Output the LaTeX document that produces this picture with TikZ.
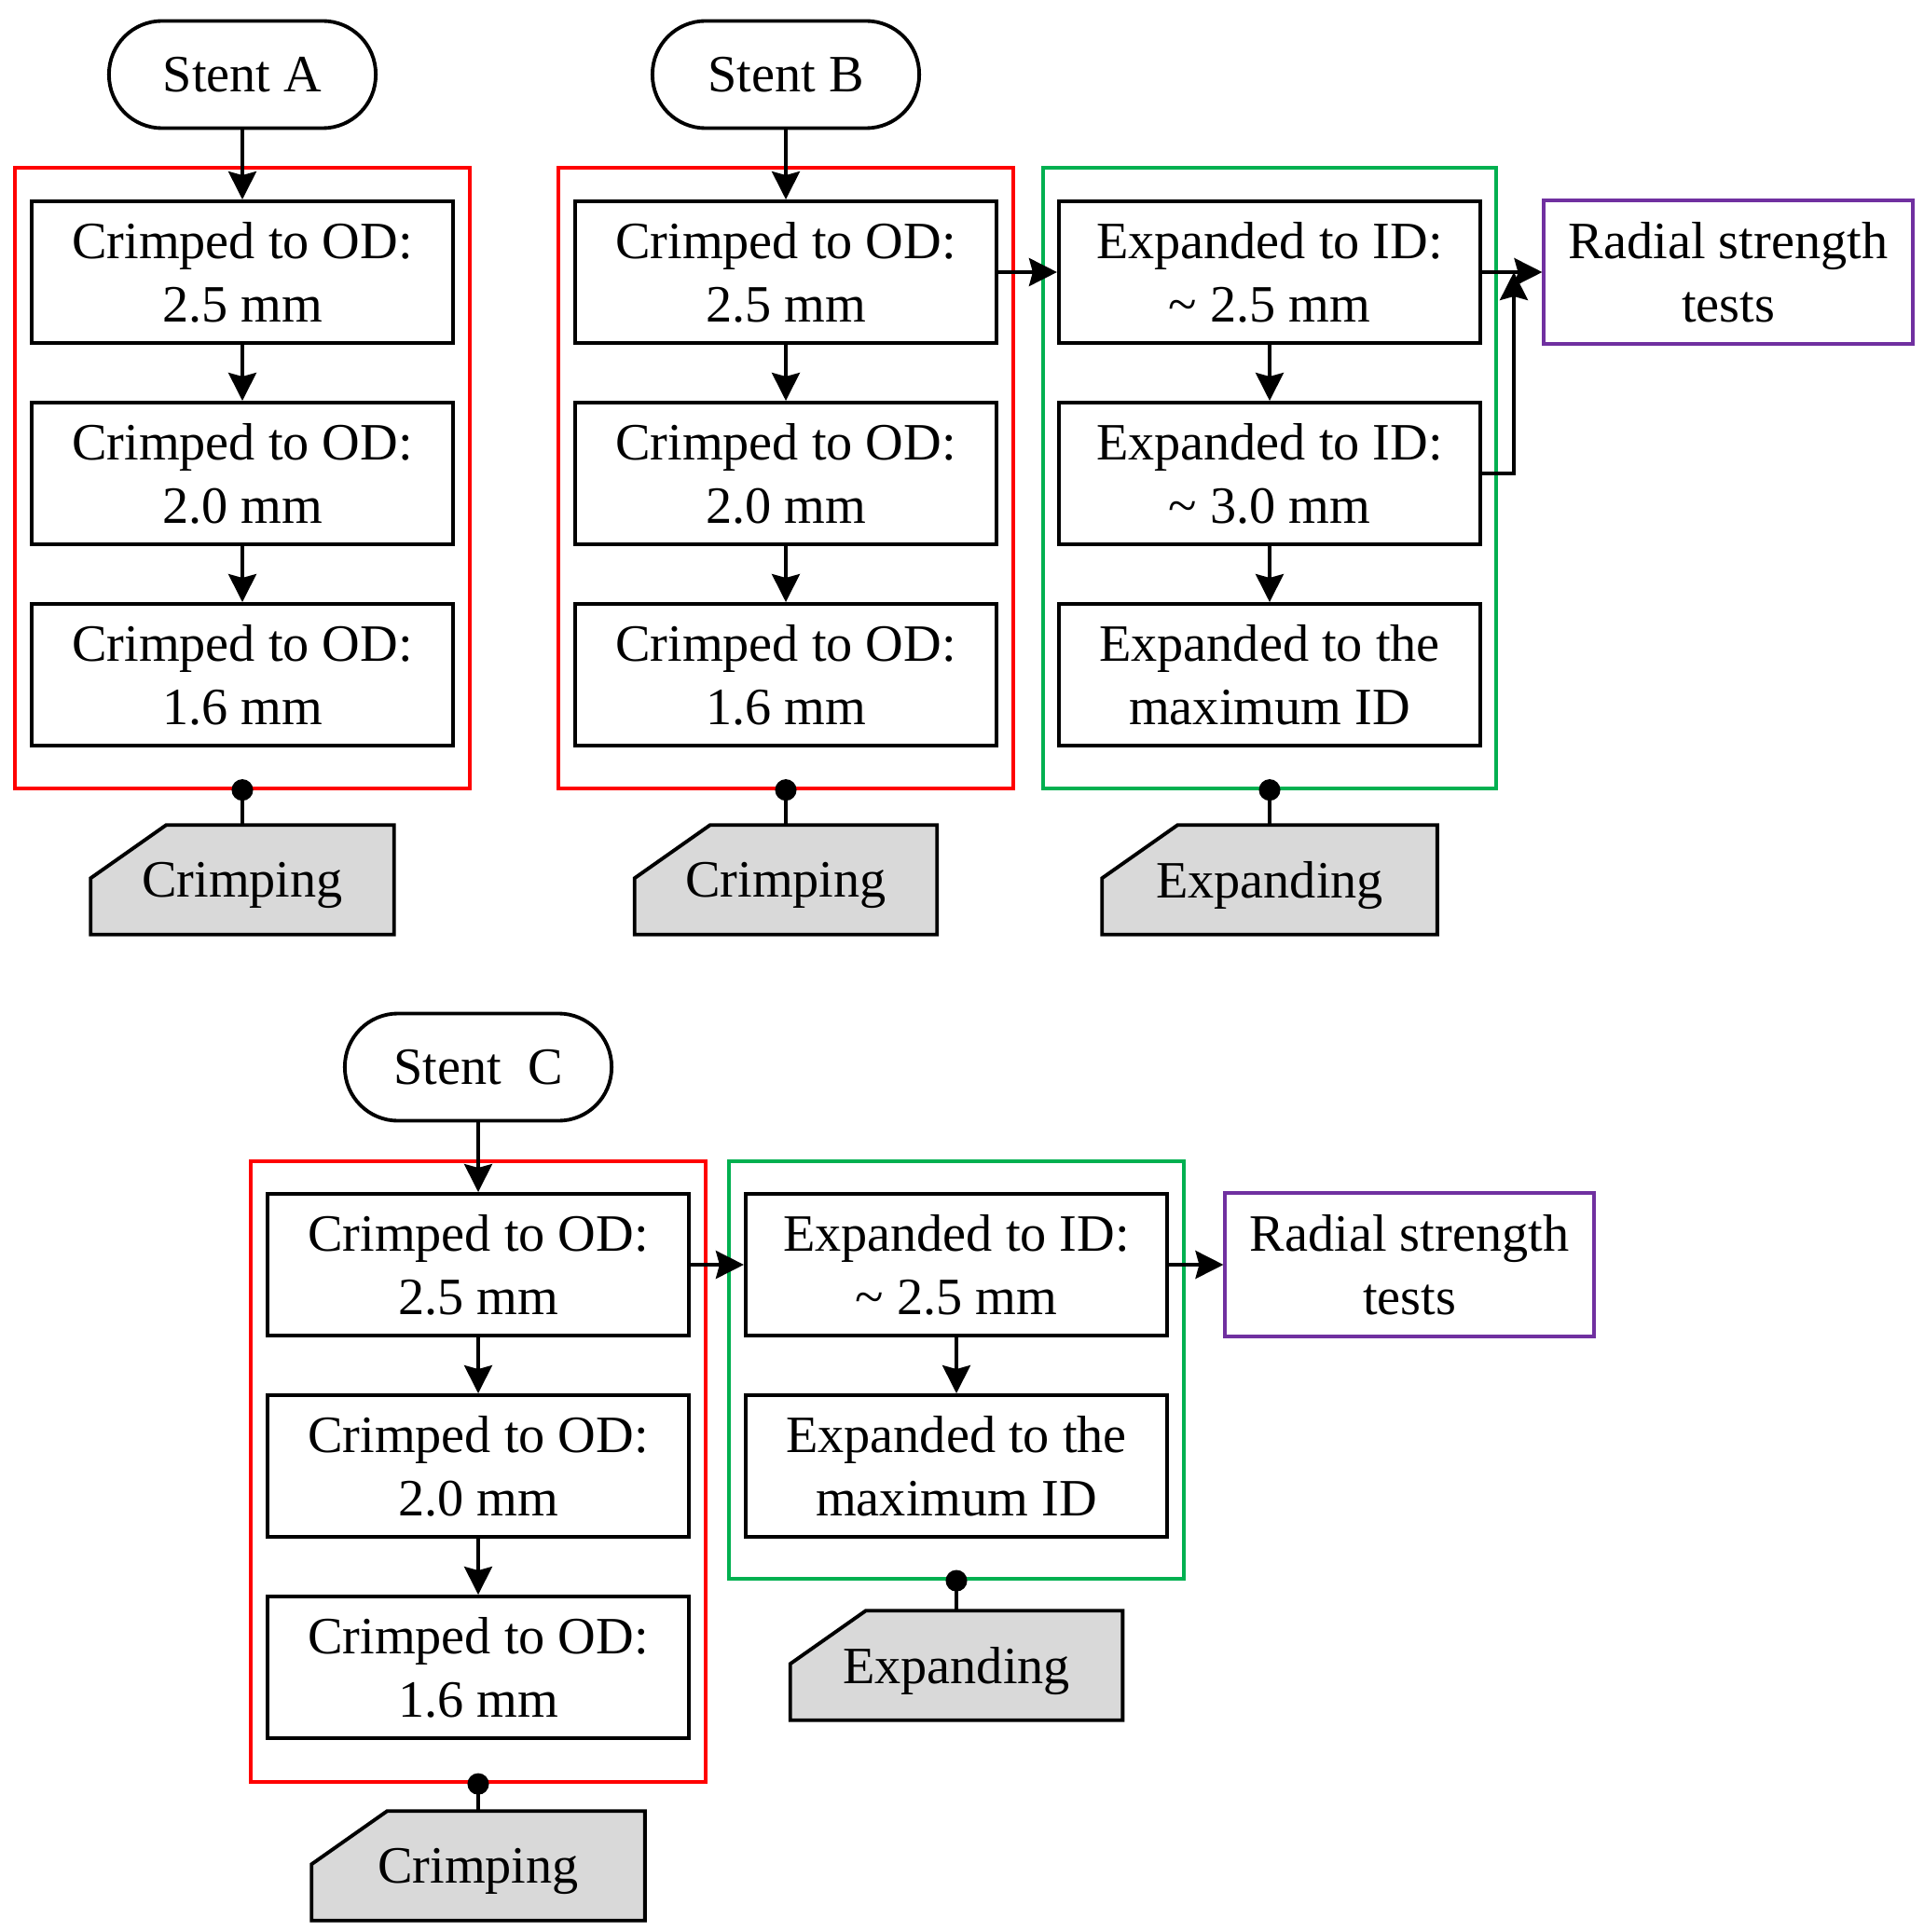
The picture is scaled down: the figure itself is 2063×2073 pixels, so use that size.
\documentclass[tikz,border=0pt]{standalone}
\usepackage{fontspec}
\setmainfont{Liberation Serif}
\usepackage{xcolor}
\usetikzlibrary{arrows.meta}

\definecolor{frred}{RGB}{255,0,0}
\definecolor{frgreen}{RGB}{0,176,80}
\definecolor{frpurple}{RGB}{112,48,160}
\definecolor{tagfill}{RGB}{217,217,217}

\pgfdeclarelayer{background}
\pgfsetlayers{background,main}

% chamfered label box behind a tag node
\newcommand{\tagshape}[1]{%
  \begin{pgfonlayer}{background}
    \filldraw[tagline] (#1.south west) -- (#1.south east) -- (#1.north east)
      -- ([xshift=0.81cm]#1.north west) -- ([yshift=-0.57cm]#1.north west) -- cycle;
  \end{pgfonlayer}}

\begin{document}
\begin{tikzpicture}[x=0.01cm, y=-0.01cm,
    font=\fontsize{16}{19.4}\selectfont,
    stepbox/.style={draw, rectangle, line width=1.1pt, minimum width=4.52cm, minimum height=1.52cm, inner sep=0pt, align=center},
    startbox/.style={draw, rectangle, rounded corners=0.57cm, line width=1.1pt, minimum width=2.86cm, minimum height=1.15cm, inner sep=0pt},
    testbox/.style={draw=frpurple, rectangle, line width=1.1pt, minimum width=3.95cm, minimum height=1.54cm, inner sep=0pt, align=center},
    stagebox/.style={draw=#1, rectangle, line width=1.1pt, inner sep=0pt},
    tagbox/.style={rectangle, minimum height=1.16cm, inner sep=0pt, text depth=0pt},
    tagline/.style={draw, fill=tagfill, line width=1.1pt},
    arr/.style={-{Stealth[length=0.3cm,width=0.3cm,inset=0.04cm]}, line width=1pt},
    pin/.style={{Circle[length=0.23cm]}-, line width=1pt, shorten <=-0.115cm}]
    \useasboundingbox (0,0) rectangle (2063,2073);

    % stent A
    \node (stA) at (260,80) [startbox] {Stent A};
    \node (frA) at (260,513) [stagebox=frred, minimum width=4.88cm, minimum height=6.65cm] {};
    \node (cA1) at (260,292) [stepbox] {Crimped to OD:\\2.5 mm};
    \node (cA2) at (260,508) [stepbox] {Crimped to OD:\\2.0 mm};
    \node (cA3) at (260,724) [stepbox] {Crimped to OD:\\1.6 mm};
    \node (tgA) at (260,944) [tagbox, minimum width=3.24cm] {Crimping};
    \tagshape{tgA}

    \draw[arr] (stA) -- (cA1);
    \draw[arr] (cA1) -- (cA2);
    \draw[arr] (cA2) -- (cA3);
    \draw[pin] (frA.south) -- (tgA.north);

    % stent B
    \node (stB) at (843,80) [startbox] {Stent B};
    \node (frB) at (843,513) [stagebox=frred, minimum width=4.88cm, minimum height=6.65cm] {};
    \node (cB1) at (843,292) [stepbox] {Crimped to OD:\\2.5 mm};
    \node (cB2) at (843,508) [stepbox] {Crimped to OD:\\2.0 mm};
    \node (cB3) at (843,724) [stepbox] {Crimped to OD:\\1.6 mm};
    \node (tgB) at (843,944) [tagbox, minimum width=3.23cm] {Crimping};
    \tagshape{tgB}

    \node (fxB) at (1362,513) [stagebox=frgreen, minimum width=4.86cm, minimum height=6.65cm] {};
    \node (eB1) at (1362,292) [stepbox] {Expanded to ID:\\\textasciitilde\ 2.5 mm};
    \node (eB2) at (1362,508) [stepbox] {Expanded to ID:\\\textasciitilde\ 3.0 mm};
    \node (eB3) at (1362,724) [stepbox] {Expanded to the\\maximum ID};
    \node (txB) at (1362,944) [tagbox, minimum width=3.58cm] {Expanding};
    \tagshape{txB}
    \node (rtB) at (1854,292) [testbox] {Radial strength\\tests};
    \coordinate (jB) at (1624,292);

    \draw[arr] (stB) -- (cB1);
    \draw[arr] (cB1) -- (cB2);
    \draw[arr] (cB2) -- (cB3);
    \draw[pin] (frB.south) -- (tgB.north);
    \draw[arr] (cB1) -- (eB1);
    \draw[arr] (eB1) -- (eB2);
    \draw[arr] (eB2) -- (eB3);
    \draw[pin] (fxB.south) -- (txB.north);
    \draw[arr] (eB1) -- (rtB);
    \draw[arr] (eB2.east) -| (jB);

    % stent C
    \node (stC) at (513,1145) [startbox] {Stent\ \ C};
    \node (frC) at (513,1579) [stagebox=frred, minimum width=4.88cm, minimum height=6.66cm] {};
    \node (cC1) at (513,1357) [stepbox] {Crimped to OD:\\2.5 mm};
    \node (cC2) at (513,1573) [stepbox] {Crimped to OD:\\2.0 mm};
    \node (cC3) at (513,1789) [stepbox] {Crimped to OD:\\1.6 mm};
    \node (tgC) at (513,2002) [tagbox, minimum width=3.56cm] {Crimping};
    \tagshape{tgC}

    \node (fxC) at (1026,1470) [stagebox=frgreen, minimum width=4.87cm, minimum height=4.48cm] {};
    \node (eC1) at (1026,1357) [stepbox] {Expanded to ID:\\\textasciitilde\ 2.5 mm};
    \node (eC2) at (1026,1573) [stepbox] {Expanded to the\\maximum ID};
    \node (txC) at (1026,1787) [tagbox, minimum width=3.55cm] {Expanding};
    \tagshape{txC}
    \node (rtC) at (1512,1357) [testbox] {Radial strength\\tests};

    \draw[arr] (stC) -- (cC1);
    \draw[arr] (cC1) -- (cC2);
    \draw[arr] (cC2) -- (cC3);
    \draw[pin] (frC.south) -- (tgC.north);
    \draw[arr] (cC1) -- (eC1);
    \draw[arr] (eC1) -- (eC2);
    \draw[pin] (fxC.south) -- (txC.north);
    \draw[arr] (eC1) -- (rtC);
\end{tikzpicture}
\end{document}
